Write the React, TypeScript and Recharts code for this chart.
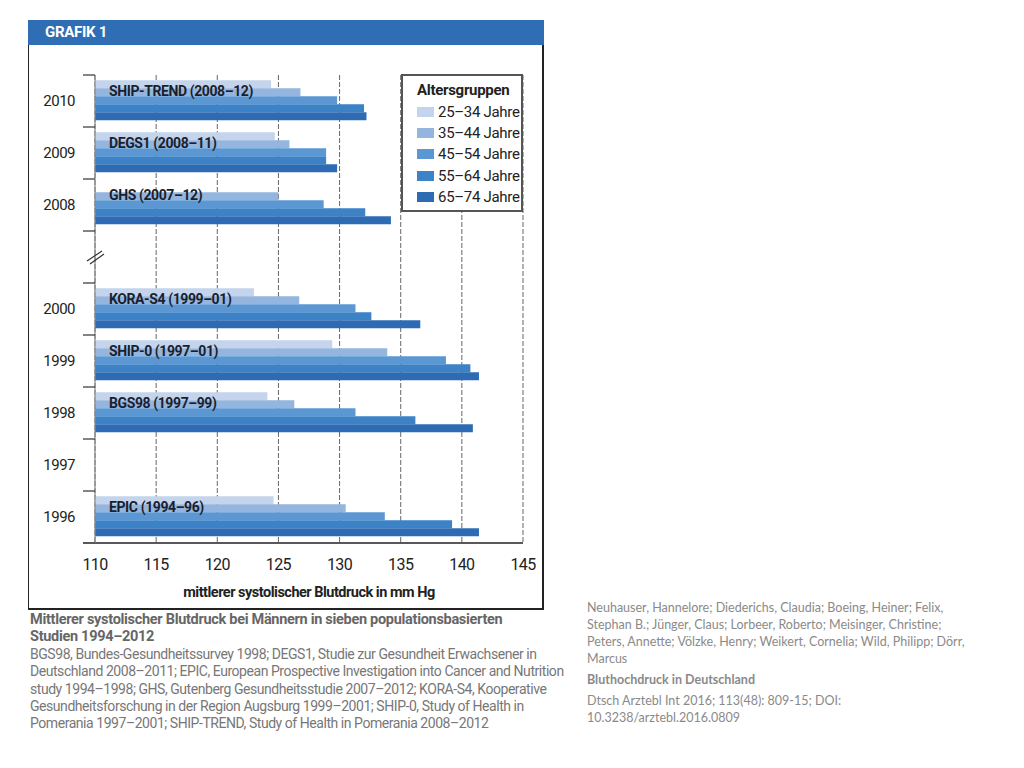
import { Bar, BarChart, CartesianGrid, Label, LabelList, Legend, XAxis, YAxis } from "recharts";

// Jahre (Kategorien), leere Kategorie = Achsenbruch
const years = ["2010", "2009", "2008", "", "2000", "1999", "1998", "1997", "1996"];
const studies = [
    "SHIP-TREND (2008–12)",
    "DEGS1 (2008–11)",
    "GHS (2007–12)",
    "",
    "KORA-S4 (1999–01)",
    "SHIP-0 (1997–01)",
    "BGS98 (1997–99)",
    "",
    "EPIC (1994–96)",
];

// mittlerer systolischer Blutdruck (mm Hg) je Altersgruppe
const age25 = [124.4, 124.7, null, null, 123.0, 129.4, 124.1, null, 124.6];
const age35 = [126.8, 125.9, 125.0, null, 126.7, 133.9, 126.3, null, 130.5];
const age45 = [129.8, 128.9, 128.7, null, 131.3, 138.7, 131.3, null, 133.7];
const age55 = [132.0, 128.9, 132.1, null, 132.6, 140.7, 136.2, null, 139.2];
const age65 = [132.2, 129.8, 134.2, null, 136.6, 141.4, 140.9, null, 141.4];

const xTicks = [110, 115, 120, 125, 130, 135, 140, 145];

const groups = [
    { key: "a25", name: "25–34 Jahre", color: "#c3d4ec" },
    { key: "a35", name: "35–44 Jahre", color: "#94b5de" },
    { key: "a45", name: "45–54 Jahre", color: "#5b98d3" },
    { key: "a55", name: "55–64 Jahre", color: "#3c82c7" },
    { key: "a65", name: "65–74 Jahre", color: "#2e6bb5" },
];

const data = years.map((year, i) => ({
    year,
    study: studies[i],
    a25: age25[i],
    a35: age35[i],
    a45: age45[i],
    a55: age55[i],
    a65: age65[i],
}));

const narrow = "Roboto, 'Liberation Sans', sans-serif";
const calibriLike = "Lato, 'Open Sans', sans-serif";

const CHART_W = 515;
const CHART_H = 564;
const TOP = 30;
const BOTTOM = 66;
const BAND = (CHART_H - TOP - BOTTOM) / years.length;

const YearTick = (props: any) => {
    const { x, y, payload, index } = props;
    const half = BAND / 2;
    return (
        <g>
            <line x1={x - 12} x2={x} y1={y - half} y2={y - half} stroke="#333" strokeWidth={1.2} />
            {index === years.length - 1 && (
                <line x1={x - 12} x2={x} y1={y + half} y2={y + half} stroke="#222" strokeWidth={1.5} />
            )}
            {payload.value === "" ? (
                <g stroke="#333" strokeWidth={1.2}>
                    <line x1={x - 8} y1={y + 4} x2={x + 7} y2={y - 6} />
                    <line x1={x - 5} y1={y + 7} x2={x + 9} y2={y - 3} />
                </g>
            ) : (
                <text x={x - 20} y={y} textAnchor="end" dominantBaseline="central" fontSize={15} fill="#222" fontFamily={narrow} style={{ letterSpacing: -0.5 }}>
                    {payload.value}
                </text>
            )}
        </g>
    );
};

const StudyLabel = (props: any) => {
    const { x, y, height, value } = props;
    if (!value) return null;
    return (
        <text x={x + 14} y={y + height / 2 - 1} dominantBaseline="central" fontSize={14} fontWeight="bold" fill="#1a1f2e" fontFamily={narrow} style={{ letterSpacing: -0.4 }}>
            {value}
        </text>
    );
};

const LegendBox = (props: any) => {
    const { payload } = props;
    return (
        <div style={{ border: "2px solid #555", background: "#fff", padding: "3px 0 6px 14px", fontFamily: narrow, color: "#222", boxSizing: "border-box", height: 138, letterSpacing: -0.3 }}>
            <div style={{ fontWeight: "bold", fontSize: 15, lineHeight: "22px" }}>Altersgruppen</div>
            {payload.map((p: any) => (
                <div key={p.value} style={{ display: "flex", alignItems: "center", height: 21.4, fontSize: 15 }}>
                    <span style={{ width: 17, height: 10, background: p.color, marginRight: 4, display: "inline-block" }} />
                    {p.value}
                </div>
            ))}
        </div>
    );
};

const Chart = () => {
    return (
        <BarChart
            width={CHART_W}
            height={CHART_H}
            data={data}
            layout="vertical"
            margin={{ top: TOP, right: 20, bottom: 0, left: 0 }}
            barCategoryGap="10%"
            barGap={0}
        >
            <CartesianGrid horizontal={false} stroke="#666" strokeDasharray="5 2" />
            <XAxis
                type="number"
                domain={[110, 145]}
                ticks={xTicks}
                allowDataOverflow
                tickLine={false}
                axisLine={{ stroke: "#222", strokeWidth: 1.5 }}
                tick={{ fontSize: 16, fill: "#222", fontFamily: narrow, style: { letterSpacing: -0.6 } }}
                tickMargin={10}
                height={BOTTOM}
            >
                <Label
                    value="mittlerer systolischer Blutdruck in mm Hg"
                    position="insideBottom"
                    offset={12}
                    style={{ fontSize: 14.5, fontWeight: "bold", fill: "#222", fontFamily: narrow, letterSpacing: -0.5 }}
                />
            </XAxis>
            <YAxis
                type="category"
                dataKey="year"
                width={67}
                tickSize={0}
                tickMargin={0}
                tickLine={false}
                axisLine={{ stroke: "#888", strokeWidth: 1.2 }}
                tick={<YearTick />}
                interval={0}
            />
            <Legend
                layout="horizontal"
                verticalAlign="middle"
                align="center"
                content={<LegendBox />}
                wrapperStyle={{ position: "absolute", left: 373, top: 29, width: 122 }}
            />
            {groups.map((g) => (
                <Bar key={g.key} dataKey={g.key} name={g.name} fill={g.color} isAnimationActive={false}>
                    {g.key === "a35" && <LabelList dataKey="study" content={<StudyLabel />} />}
                </Bar>
            ))}
        </BarChart>
    );
};

const captionLines = [
    "BGS98, Bundes-Gesundheitssurvey 1998; DEGS1, Studie zur Gesundheit Erwachsener in",
    "Deutschland 2008–2011; EPIC, European Prospective Investigation into Cancer and Nutrition",
    "study 1994–1998; GHS, Gutenberg Gesundheitsstudie 2007–2012; KORA-S4, Kooperative",
    "Gesundheitsforschung in der Region Augsburg 1999–2001; SHIP-0, Study of Health in",
    "Pomerania 1997–2001; SHIP-TREND, Study of Health in Pomerania 2008–2012",
];

const authorLines = [
    "Neuhauser, Hannelore; Diederichs, Claudia; Boeing, Heiner; Felix,",
    "Stephan B.; Jünger, Claus; Lorbeer, Roberto; Meisinger, Christine;",
    "Peters, Annette; Völzke, Henry; Weikert, Cornelia; Wild, Philipp; Dörr,",
    "Marcus",
];

export default function App() {
    return (
        <div style={{ position: "absolute", left: 0, top: 0, width: 1024, height: 768, background: "#fff" }}>
            <div style={{ position: "absolute", left: 28, top: 20, width: 516, height: 590, boxSizing: "border-box", borderLeft: "1.5px solid #222", borderRight: "2px solid #222", borderBottom: "2px solid #222" }} />
            <div style={{ position: "absolute", left: 28, top: 20, width: 516, height: 25, background: "#2f6db5", color: "#fff", fontFamily: narrow, fontWeight: "bold", fontSize: 15, lineHeight: "25px", paddingLeft: 17, boxSizing: "border-box", letterSpacing: -0.3 }}>
                GRAFIK 1
            </div>
            <div style={{ position: "absolute", left: 28, top: 45 }}>
                <Chart />
            </div>
            <div style={{ position: "absolute", left: 30, top: 611, width: 540, fontFamily: narrow, fontSize: 14, color: "#777", lineHeight: "17.4px", whiteSpace: "nowrap", letterSpacing: -0.45 }}>
                <div style={{ fontWeight: "bold", color: "#666", fontSize: 14.5, letterSpacing: -0.3 }}>Mittlerer systolischer Blutdruck bei Männern in sieben populationsbasierten</div>
                <div style={{ fontWeight: "bold", color: "#666", fontSize: 14.5, letterSpacing: -0.3 }}>Studien 1994–2012</div>
                {captionLines.map((l) => (
                    <div key={l}>{l}</div>
                ))}
            </div>
            <div style={{ position: "absolute", left: 587, top: 599, width: 430, fontFamily: calibriLike, fontSize: 12.5, color: "#8a8a8a", lineHeight: "17px" }}>
                {authorLines.map((l) => (
                    <div key={l}>{l}</div>
                ))}
                <div style={{ fontWeight: "bold", marginTop: 4 }}>Bluthochdruck in Deutschland</div>
                <div style={{ marginTop: 4 }}>Dtsch Arztebl Int 2016; 113(48): 809-15; DOI:</div>
                <div>10.3238/arztebl.2016.0809</div>
            </div>
        </div>
    );
}
